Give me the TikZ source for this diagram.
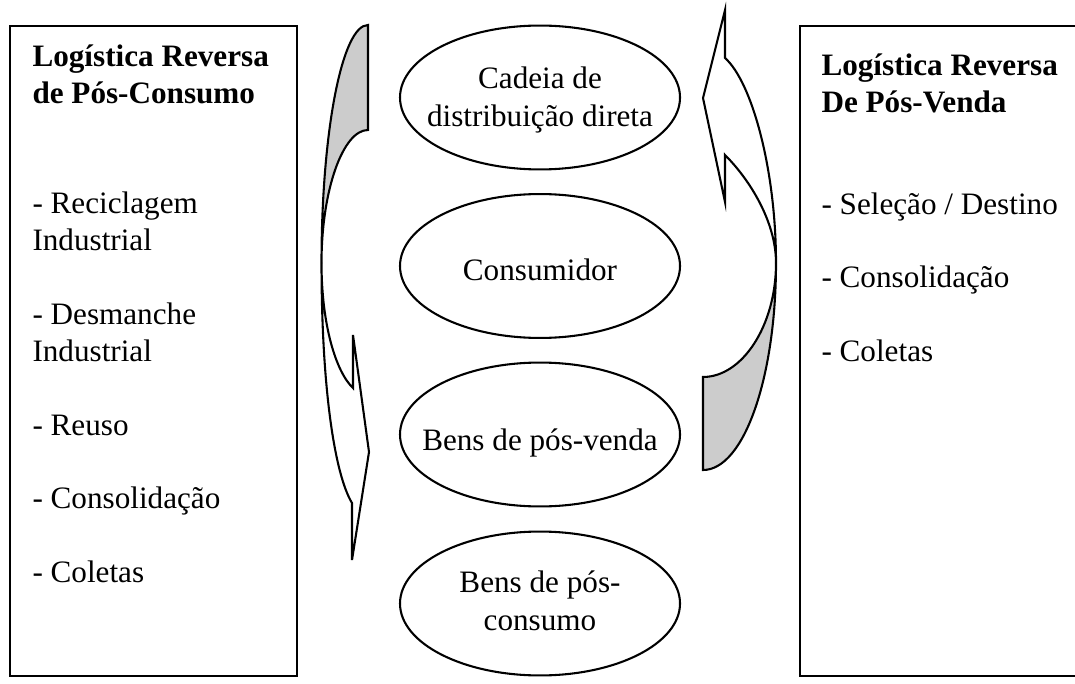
\documentclass[tikz,border=0pt]{standalone}
\usepackage{fontspec}
\setmainfont{Liberation Serif}
\usetikzlibrary{shapes.geometric}

\definecolor{cinza}{gray}{0.8}

\tikzset{
  etapa/.style={draw, ellipse, line width=0.8pt, minimum width=107.8pt, minimum height=55.4pt, inner sep=0pt},
  rotulo/.style={inner sep=0pt, align=center, font=\fontsize{12}{14.8}\selectfont},
  caixa/.style={draw, line width=0.8pt},
  lista/.style={anchor=north west, inner sep=0pt, align=left, font=\fontsize{12}{14.2}\selectfont},
  seta/.style={draw, line width=0.8pt},
}

\begin{document}
\begin{tikzpicture}[x=0.385pt,y=-0.385pt]
\useasboundingbox (0,0) rectangle (1075,684);

% caixas laterais
\draw[caixa] (10,26) rectangle (297,676);
\draw[caixa] (1080,26) -- (800,26) -- (800,676) -- (1080,676);

\node[lista] (poscons) at (32,44) {\textbf{Logística Reversa}\\\textbf{de Pós-Consumo}\\[28.4pt]
  - Reciclagem\\Industrial\\[14.2pt]
  - Desmanche\\Industrial\\[14.2pt]
  - Reuso\\[14.2pt]
  - Consolidação\\[14.2pt]
  - Coletas};

\node[lista] (posvendat) at (821,53) {\textbf{Logística Reversa}\\\textbf{De Pós-Venda}};
\node[lista] (posvendal) at (821,192) {- Seleção / Destino\\[14.2pt]
  - Consolidação\\[14.2pt]
  - Coletas};

% etapas do meio
\node[etapa] (cadeia) at (540,97.5) {};
\node[etapa] (consumidor) at (540,266) {};
\node[etapa] (posvenda) at (540,434.5) {};
\node[etapa] (posconsumo) at (540,603.5) {};

\node[rotulo] (tcadeia) at (540,100) {Cadeia de\\distribuição direta};
\node[rotulo] (tconsumidor) at (540,270) {Consumidor};
\node[rotulo] (tposvenda) at (540,443) {Bens de pós-venda};
\node[rotulo] (tposconsumo) at (540,601) {Bens de pós-\\consumo};

% seta curva da esquerda (para baixo)
\coordinate (eA) at (368,25);
\coordinate (eB) at (368,130);
\coordinate (eX) at (321.5,263);
\coordinate (eC) at (352,503);
\coordinate (eT) at (352,560);
\coordinate (eR) at (369,452);
\coordinate (eW) at (353,335);
\coordinate (eV) at (353,388);
\filldraw[seta, fill=cinza] (eA) .. controls (342,25) and (321.5,132) .. (eX)
  .. controls (321.5,190) and (343,130) .. (eB) -- cycle;
\filldraw[seta, fill=white] (eX) .. controls (321.5,390) and (335,475) .. (eC)
  -- (eT) -- (eR) -- (eW) -- (eV) .. controls (336,372) and (321.5,325) .. (eX) -- cycle;

% seta curva da direita (para cima)
\coordinate (dT) at (725,10);
\coordinate (dL) at (703,98);
\coordinate (dW) at (725,202);
\coordinate (dV) at (725,155);
\coordinate (dA) at (725,58);
\coordinate (dX) at (776,263);
\coordinate (dB) at (703,470);
\coordinate (dC) at (703,377);
\filldraw[seta, fill=white] (dA) .. controls (752,82) and (776,170) .. (dX)
  .. controls (776,222) and (750,180) .. (dV) -- (dW) -- (dL) -- (dT) -- cycle;
\filldraw[seta, fill=cinza] (dX) .. controls (776,377) and (744,470) .. (dB)
  -- (dC) .. controls (742,377) and (776,326) .. (dX) -- cycle;
\end{tikzpicture}
\end{document}
